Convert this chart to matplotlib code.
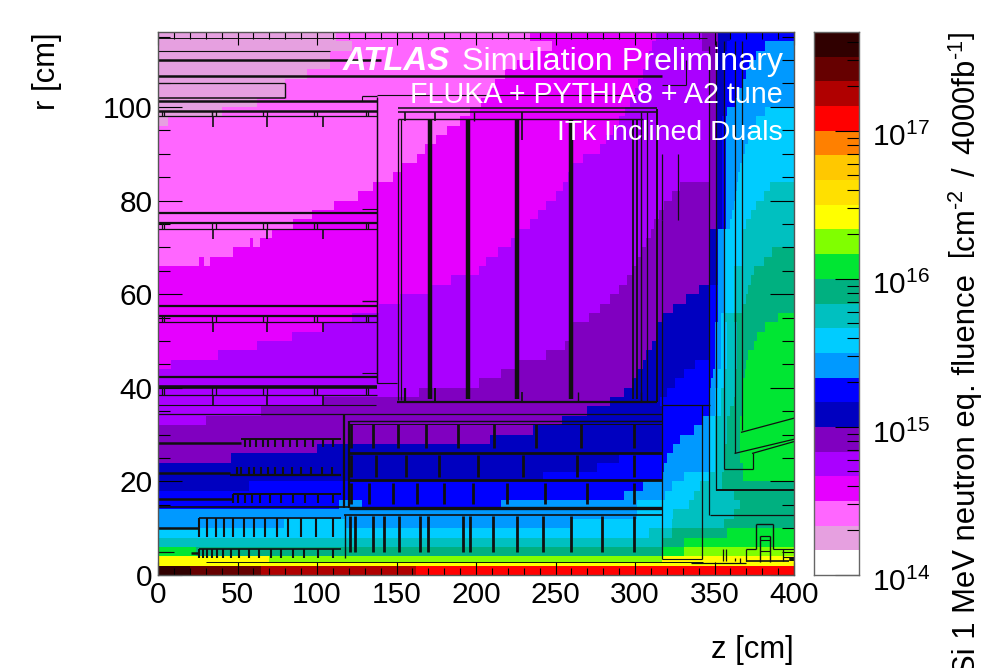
import numpy as np
import matplotlib
matplotlib.use("Agg")
import matplotlib.pyplot as plt
from matplotlib.colors import ListedColormap, BoundaryNorm
from matplotlib.ticker import MultipleLocator, LogLocator, FixedLocator, NullFormatter
from matplotlib.transforms import ScaledTranslation

plt.rcParams['font.family'] = ['Liberation Sans', 'DejaVu Sans']
plt.rcParams['mathtext.fontset'] = 'custom'
plt.rcParams['mathtext.rm'] = 'Liberation Sans'
plt.rcParams['mathtext.it'] = 'Liberation Sans:italic'
plt.rcParams['mathtext.bf'] = 'Liberation Sans:bold'

COLORS = ['#ffffff', '#e6a0e0', '#ff66ff', '#e600ff', '#aa00ff', '#8000c0', '#0000c0', '#0000ff',
          '#0099ff', '#00ccff', '#00c0c0', '#00b080', '#00e633', '#80ff00', '#ffff00', '#ffe000',
          '#ffc800', '#ff8000', '#ff0000', '#b00000', '#660000', '#300000']

# Fluence band per cell: (row lower edge r, [(z end, band index), ...]), top row first
ROWS = [
 (114, [(112,1),(234,2),(313,3),(342,4),(352,5),(360,6),(400,7)]),
 (112, [(122,1),(248,2),(311,3),(342,4),(352,5),(358,6),(382,7),(400,8)]),
 (110, [(108,1),(236,2),(309,3),(347,4),(352,5),(356,6),(376,7),(400,8)]),
 (108, [(108,1),(226,2),(307,3),(347,4),(351,5),(356,6),(372,7),(400,8)]),
 (106, [(94,1),(218,2),(305,3),(347,4),(351,5),(356,6),(370,7),(400,8)]),
 (104, [(80,1),(212,2),(302,3),(347,4),(351,5),(356,6),(367,7),(400,8)]),
 (102, [(80,1),(208,2),(300,3),(347,4),(351,5),(356,6),(365,7),(400,8)]),
 (100, [(62,1),(203,2),(297,3),(347,4),(351,5),(356,6),(363,7),(400,8)]),
 (98, [(40,1),(196,2),(294,3),(347,4),(351,5),(356,6),(358,7),(382,8),(400,9)]),
 (96, [(6,1),(190,2),(290,3),(347,4),(351,5),(355,6),(357,7),(376,8),(400,9)]),
 (94, [(182,2),(286,3),(347,4),(351,5),(355,6),(357,7),(373,8),(400,9)]),
 (92, [(175,2),(282,3),(347,4),(351,5),(355,6),(357,7),(371,8),(400,9)]),
 (90, [(168,2),(278,3),(347,4),(351,5),(355,6),(357,7),(369,8),(400,9)]),
 (88, [(163,2),(267,3),(347,4),(351,5),(355,6),(357,7),(367,8),(400,9)]),
 (86, [(153,2),(261,3),(347,4),(351,5),(355,6),(357,7),(366,8),(400,9)]),
 (84, [(148,2),(258,3),(347,4),(351,5),(355,6),(357,7),(365,8),(400,9)]),
 (82, [(135,2),(255,3),(328,4),(351,5),(355,6),(357,7),(364,8),(385,9),(400,10)]),
 (80, [(126,2),(250,3),(323,4),(351,5),(355,6),(357,7),(363,8),(381,9),(400,10)]),
 (78, [(111,2),(244,3),(318,4),(351,5),(355,6),(357,7),(362,8),(376,9),(400,10)]),
 (76, [(97,2),(239,3),(315,4),(351,5),(355,6),(357,7),(361,8),(373,9),(400,10)]),
 (74, [(85,2),(234,3),(312,4),(351,5),(355,6),(357,7),(360,8),(370,9),(400,10)]),
 (72, [(72,2),(227,3),(310,4),(347,5),(352,6),(356,8),(368,9),(400,10)]),
 (70, [(58,2),(60,3),(64,2),(222,3),(307,4),(347,5),(352,6),(356,8),(368,9),(400,10)]),
 (68, [(47,2),(214,3),(304,4),(347,5),(352,6),(356,8),(368,9),(386,10),(400,11)]),
 (66, [(26,2),(29,3),(33,2),(206,3),(301,4),(347,5),(352,6),(356,8),(368,9),(381,10),(400,11)]),
 (64, [(202,3),(298,4),(347,5),(352,6),(356,8),(362,9),(375,10),(400,11)]),
 (62, [(184,3),(295,4),(347,5),(352,6),(356,8),(362,9),(373,10),(400,11)]),
 (60, [(171,3),(290,4),(340,5),(347,6),(352,7),(356,8),(362,9),(371,10),(400,11)]),
 (58, [(152,3),(284,4),(332,5),(347,6),(352,7),(356,8),(362,9),(370,10),(400,11)]),
 (56, [(139,3),(278,4),(324,5),(347,6),(352,7),(356,8),(362,9),(367,10),(400,11)]),
 (54, [(122,3),(271,4),(317,5),(347,6),(352,7),(354,8),(356,9),(362,10),(390,11),(400,12)]),
 (52, [(104,3),(261,4),(314,5),(347,6),(350,7),(354,8),(358,9),(364,10),(382,11),(400,12)]),
 (50, [(84,3),(261,4),(313,5),(347,6),(350,7),(354,8),(358,9),(364,10),(377,11),(400,12)]),
 (48, [(62,3),(256,4),(311,5),(347,6),(350,7),(354,8),(358,9),(364,10),(375,11),(400,12)]),
 (46, [(38,3),(244,4),(307,5),(347,6),(350,7),(354,8),(358,9),(364,10),(371,11),(400,12)]),
 (44, [(8,3),(227,4),(305,5),(338,6),(350,7),(354,8),(358,9),(364,10),(370,11),(400,12)]),
 (42, [(216,4),(301,5),(331,6),(349,7),(352,8),(356,9),(363,10),(369,11),(400,12)]),
 (40, [(202,4),(298,5),(325,6),(348,7),(352,8),(356,9),(363,10),(367,11),(400,12)]),
 (38, [(164,4),(293,5),(320,6),(347,7),(350,8),(354,9),(363,10),(367,11),(400,12)]),
 (36, [(104,4),(284,5),(316,6),(347,7),(350,8),(354,9),(362,10),(367,11),(400,12)]),
 (34, [(65,4),(270,5),(317,6),(347,7),(350,8),(354,9),(360,10),(367,11),(400,12)]),
 (32, [(30,4),(254,5),(317,6),(342,7),(347,8),(350,9),(358,10),(366,11),(400,12)]),
 (30, [(236,5),(317,6),(337,7),(347,8),(350,9),(358,10),(366,11),(400,12)]),
 (28, [(209,5),(317,6),(328,7),(347,8),(350,9),(358,10),(366,11),(400,12)]),
 (26, [(100,5),(317,6),(324,7),(347,8),(350,9),(356,10),(366,11),(400,12)]),
 (24, [(46,5),(290,6),(320,7),(347,8),(350,9),(356,10),(366,11),(400,12)]),
 (22, [(276,6),(318,7),(347,8),(350,9),(356,10),(368,11),(400,12)]),
 (20, [(242,6),(317,7),(331,8),(347,9),(355,10),(368,11),(400,12)]),
 (18, [(57,6),(305,7),(323,8),(341,9),(355,10),(400,11)]),
 (16, [(293,7),(319,8),(337,9),(362,10),(400,11)]),
 (14, [(114,7),(128,8),(216,7),(301,8),(334,9),(366,10),(400,11)]),
 (12, [(301,8),(324,9),(362,10),(400,11)]),
 (10, [(79,8),(118,9),(259,8),(323,9),(356,10),(400,11)]),
 (8, [(309,9),(323,10),(358,11),(400,12)]),
 (6, [(317,10),(331,11),(400,12)]),
 (4, [(24,12),(317,11),(331,12),(400,13)]),
 (2.8, [(70,14),(317,13),(400,14)]),
 (2, [(400,14)]),
 (0, [(20,21),(65,20),(162,19),(400,18)]),
]

# Detector outline: horizontal lines (r, z start, z end, width)
H_LINES = [
 (114.8,0,345,0.7),(112,0,108,0.8),(110,0,140,1.8),(106.6,0,317,1.8),(105,0,80,0.9),(102,0,80,1.1),
 (101.3,0,137.5,1.8),(102.4,128,137.5,0.9),(102.6,138,300,0.8),(99.2,0,137.5,1.8),(98,0,137.5,0.9),
 (99.7,151,313.6,1.1),(99,151,313.6,1.1),(97.4,151,305,1.0),(104.7,317,332,0.8),
 (77.4,0,137.5,1.6),(75.3,0,137.5,1.6),(74,0,137.5,0.9),(78.2,128,137.5,0.8),
 (57.4,0,137.5,1.6),(55.4,0,137.5,1.6),(54.1,0,137.5,0.9),(58.6,128,137.5,1.0),
 (42.4,0,137.5,1.6),(40.2,0,137.5,2.6),(38.5,0,137.5,0.9),(43.2,128,137.5,0.8),(41,138,150,0.8),
 (36.9,150,313.6,1.6),(36.3,0,137,0.8),(36.3,317,347,0.9),(34.3,0,317,0.9),
 (32.8,120,317,1.0),(32.2,120,317,0.7),(28.1,0,52,1.8),(29,52,115,1.4),
 (26.1,120,317,2.0),(21.7,0,45,1.8),(21.3,45,115,1.6),(20.2,120,317,2.0),
 (16.3,0,47,1.8),(17.3,47,115,1.4),(14.6,0,120,1.2),(14.4,120,317,2.4),(12.8,117,317,1.2),
 (12.1,26,115,1.2),(10,0,26,1.8),(5.5,26,115,1.2),(4.6,21,26,1.8),(5,0,10,0.8),
 (2.8,30,343,0.7),(3.5,317,342,0.8),(12.8,347,400,0.9),(18.1,351,400,1.4),(22.6,356,374,0.9),
 (2.5,335,370,0.9),(3,370,397,1.2),(5.5,370,376,0.9),(11,376,387,1.0),(5.5,387,400,0.8),
 (8.3,378.5,385,0.9),(7.4,378.5,385,0.8),(5.2,378.5,385,0.8),(3.9,393,400,0.8),
]
# Vertical lines (z, r start, r end, width)
V_LINES = [
 (138,41,102.2,0.9),(137.5,41,102,0.9),(80,102,105,1.0),(151,37.4,97.4,0.9),(153,37.4,97.4,0.9),
 (171,37.5,97.4,3.2),(195,37.5,97.4,3.2),(226,37.5,97.4,3.2),(260,37.5,97.4,3.2),
 (299,37.5,97.4,1.3),(301,37.5,97.4,1.3),(307.5,37,99,0.9),(314,37,99.5,1.4),
 (317,75.8,90,0.9),(327,75.8,90,0.9),(317,36.3,75.8,0.9),(332,104.7,110,0.8),
 (155.5,97,99,1.2),(174,97,99,1.2),(199,97,99,1.0),(229,93,99,1.2),(304,37,99,1.0),
 (155.5,37,40,1.6),(174,37,40,1.4),(229,37,39,1.2),(264,37,39,1.0),(304,37,39,1.0),
 (346.5,12.8,113,0.9),(351,18.1,114,0.9),(356,22.6,114,0.9),(363,26,114,0.9),(367,31,114,0.9),
 (117,14.4,34.3,1.6),(120,14.4,32.8,1.6),(117.5,3.6,12.8,1.0),(317,3.5,36.3,0.9),(342,3.5,36.3,0.9),
 (374,22.6,26,0.9),(363,3,3.7,0.9),(366,2.5,3.7,0.9),(370,3,5.5,0.9),(376,5.5,11,1.0),(387,5.5,11,1.0),
 (378.5,2.8,8.3,1.0),(385,2.8,8.3,1.0),(393,3,5.5,0.9),(355.5,2.9,5.5,0.9),(357,2.9,5.5,0.9),
 (398.5,3,3.9,4.0),(33.7,98,99.2,0.9),(128,101.3,102.4,0.8),
]
# Sloped end-cap lines (z start, r start, z end, r end)
SLOPES = [(363,26,400,29),(367,30.5,400,33.5),(374,26,400,28.5)]

# Module brackets on the three outer barrel layers
BRACKET_Z = [2.7, 3.8, 33.7, 36.2, 66.2, 68.3, 98.1, 100.2, 130.6, 132.3]
BRACKET_R = [(98,99.2), (74,75.3), (54.1,55.4), (38.5,40.2)]
STUB_Z = [34.4, 68.7, 103.5]
STUB_R = [(95.6,98), (71.8,74), (51.9,54.1), (36.3,38.5)]

# Inner barrel comb teeth: (r start, r end, tooth positions)
COMBS = [
 (27.4, 29, [54.7,57.8,61.6,66.2,69.4,73.6,78.8,83,87.6,92.4,97.7,104,109.8]),
 (21.3, 23.1, [49.9,52,57.4,60.4,64.6,69.4,73.6,78.8,84,89.7,96,102.9,109.2]),
 (15.4, 17.3, [47,50.5,54.7,58.9,64.1,70.4,77.1,84.7,92.4,100.8,109.8]),
 (8.2, 12.1, [26,31,36.3,41.5,47.4,54.1,60.4,67.3,74.6,82,89.7,99.4,109.8]),
 (3.7, 5.5, [26,28.1,30.6,33.7,36.9,41.1,45.9,51.1,57.4,63.7,70.8,77.1,84.7,91.8,100.8,109.8]),
]
# Barrel staves, z>120: (r start, r end, stave positions)
STAVES = [
 (27.1, 32.3, [121.4,135,151,168.5,188.8,211.3,237.5,266,299.3]),
 (21, 25.6, [121.4,137,156,177,201,229.7,263.7,299.3]),
 (15.2, 19.6, [121.4,133,147.5,162.6,180,198.3,219.3,243.4,270,299.3]),
 (5, 12.5, [120.7,124,135,142.3,151.8,164.7,170,192,196,210.5,225.6,242,259.5,279,299.3]),
]

TITLE_LINES = ["Simulation Preliminary", "FLUKA + PYTHIA8 + A2 tune", "ITk Inclined Duals"]

# --- derive the band grid -------------------------------------------------
band_edges = 10.0 ** (14 + np.arange(len(COLORS) + 1) / 6)
band_mid = 10.0 ** (14 + (np.arange(len(COLORS)) + 0.5) / 6)
rows = ROWS[::-1]
r_edges = np.array([row[0] for row in rows] + [116.0])
z_edges = np.arange(0, 401)
grid = np.zeros((len(rows), 400))
for i, (_, runs) in enumerate(rows):
    start = 0
    for z_end, band in runs:
        grid[i, start:z_end] = band_mid[band]
        start = z_end

cmap = ListedColormap(COLORS)
norm = BoundaryNorm(band_edges, cmap.N)

W, H = 988, 668
fig = plt.figure(figsize=(W / 100, H / 100), dpi=100)
def px_axes(x0, y0, x1, y1):
    return fig.add_axes([x0 / W, 1 - y1 / H, (x1 - x0) / W, (y1 - y0) / H])

ax = px_axes(158, 32, 794, 575)
ax.pcolormesh(z_edges, r_edges, grid, cmap=cmap, norm=norm, shading='flat', rasterized=True)
ax.set_xlim(0, 400)
ax.set_ylim(0, 116)

LC = '#101010'
for r, z0, z1, lw in H_LINES:
    ax.plot([z0, z1], [r, r], color=LC, lw=lw, solid_capstyle='butt')
for z, r0, r1, lw in V_LINES:
    ax.plot([z, z], [r0, r1], color=LC, lw=lw, solid_capstyle='butt')
for z0, r0, z1, r1 in SLOPES:
    ax.plot([z0, z1], [r0, r1], color=LC, lw=0.9)
for (r0, r1) in BRACKET_R:
    ax.vlines(BRACKET_Z, r0, r1, color=LC, lw=0.9)
for (r0, r1) in STUB_R:
    ax.vlines(STUB_Z, r0, r1, color=LC, lw=1.2)
for r0, r1, zs in COMBS:
    ax.vlines(zs, r0, r1, color=LC, lw=1.5)
for r0, r1, zs in STAVES:
    ax.vlines(zs, r0, r1, color=LC, lw=2.0)

ax.xaxis.set_major_locator(MultipleLocator(50))
ax.xaxis.set_minor_locator(MultipleLocator(10))
ax.yaxis.set_major_locator(MultipleLocator(20))
ax.yaxis.set_minor_locator(MultipleLocator(5))
ax.tick_params(axis='x', which='major', direction='in', top=True, bottom=True, length=9.5, width=0.8,
               labelsize=21.5, pad=4)
ax.tick_params(axis='x', which='minor', direction='in', top=True, bottom=True, length=5, width=0.8)
ax.tick_params(axis='y', which='major', direction='in', left=True, right=True, length=17.5, width=0.8,
               labelsize=21.5, pad=4)
ax.tick_params(axis='y', which='minor', direction='in', left=True, right=True, length=8.7, width=0.8)
for s in ax.spines.values():
    s.set_color('#555555')
    s.set_linewidth(1.0)

fig.text(794 / W, 1 - 650 / H, "z [cm]", fontsize=22.3, ha='right', va='center')
fig.text(47 / W, 1 - 32 / H, "r [cm]", fontsize=22.3, rotation=90, ha='center', va='top')

fig.text(783 / W, 1 - 70 / H, TITLE_LINES[0], color='white', ha='right', va='baseline', fontsize=23.2)
fig.text(450 / W, 1 - 70 / H, "ATLAS", color='white', ha='right', va='baseline', fontsize=23.7,
         fontweight='bold', fontstyle='italic')
fig.text(783 / W, 1 - 103 / H, TITLE_LINES[1], color='white', ha='right', va='baseline', fontsize=20.6)
fig.text(783 / W, 1 - 140 / H, TITLE_LINES[2], color='white', ha='right', va='baseline', fontsize=20.4)

cax = px_axes(814, 32, 859, 575)
cax.pcolormesh([0, 1], band_edges, band_mid[:, None], cmap=cmap, norm=norm, shading='flat')
cax.set_yscale('log')
cax.set_ylim(band_edges[0], band_edges[-1])
cax.set_xlim(0, 1)
cax.set_xticks([])
cax.yaxis.tick_right()
cax.yaxis.set_major_locator(FixedLocator([1e14, 1e15, 1e16, 1e17]))
cax.yaxis.set_minor_locator(LogLocator(base=10, subs=np.arange(2, 10), numticks=8))
cax.yaxis.set_minor_formatter(NullFormatter())
cax.set_yticklabels([r'$\mathrm{10^{14}}$', r'$\mathrm{10^{15}}$', r'$\mathrm{10^{16}}$', r'$\mathrm{10^{17}}$'])
cax.tick_params(axis='y', which='major', direction='in', length=17.5, width=0.8, labelsize=21.5, pad=9)
cax.tick_params(axis='y', which='minor', direction='in', length=8.7, width=0.8)
for lab in cax.get_yticklabels():
    lab.set_transform(lab.get_transform() + ScaledTranslation(0, -4 / 100, fig.dpi_scale_trans))
for s in cax.spines.values():
    s.set_color('#666666')
    s.set_linewidth(1.0)

fig.text(967 / W, 1 - 274 / H, "Si 1 MeV neutron eq. fluence",
         fontsize=22.3, rotation=90, ha='center', va='top')
fig.text(967 / W, 1 - 32 / H,
         r"$\left[\mathrm{cm^{\text{-}2}\ \,/\ \,4000fb^{\text{-}1}}\right]$",
         fontsize=22.3, rotation=90, ha='center', va='top')

fig.savefig("out.png", dpi=100)
